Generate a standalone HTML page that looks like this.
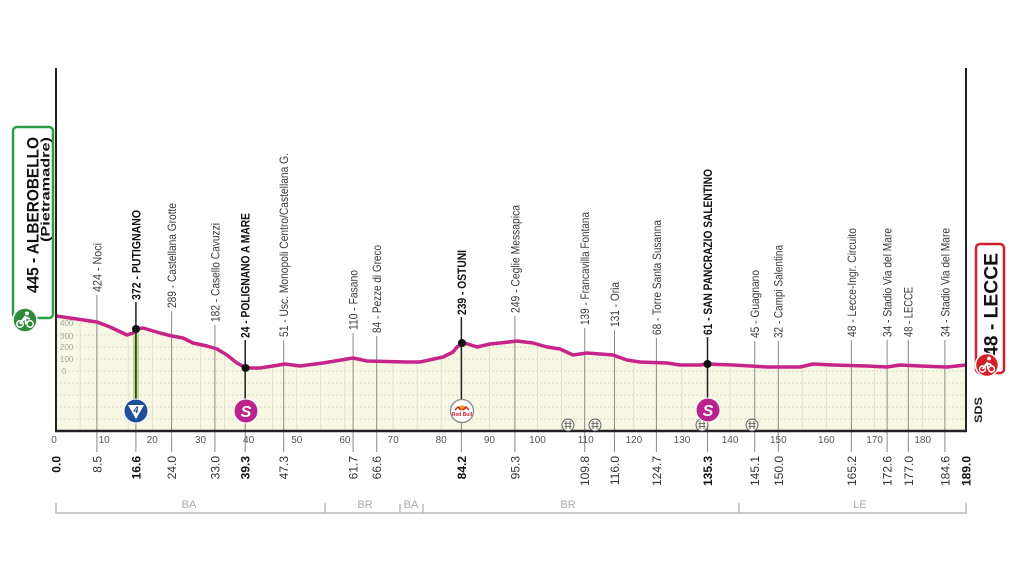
<!DOCTYPE html>
<html><head><meta charset="utf-8"><style>
html,body{margin:0;padding:0;background:#fff;}
svg{display:block;}
text{font-family:"Liberation Sans Narrow","Liberation Sans",sans-serif;}
</style></head><body>
<svg width="1024" height="576" viewBox="0 0 1024 576" xmlns="http://www.w3.org/2000/svg">
<defs>
<clipPath id="fillclip"><polygon points="56,316 77,319 97,322 110,327 127,335 133,333 136,329 143,328 160,333 172,336 183,338 193,343 207,346 217,349 227,355 237,363 246,368 260,368 273,366 285,364 300,366 323,363 353,358 367,361 407,362 420,362 443,357 453,352 457,347 463,343 468,344 477,347 490,344 500,343 517,341 533,343 547,347 560,349 573,355 587,353 613,355 627,360 640,362 667,363 680,365 700,365 707,364 733,365 767,367 800,367 813,364 833,365 867,366 887,367 900,365 920,366 947,367 966,365 966,431 56,431"/></clipPath>
</defs>
<rect width="1024" height="576" fill="#fff"/>
<polygon fill="#f7f7e3" points="56,316 77,319 97,322 110,327 127,335 133,333 136,329 143,328 160,333 172,336 183,338 193,343 207,346 217,349 227,355 237,363 246,368 260,368 273,366 285,364 300,366 323,363 353,358 367,361 407,362 420,362 443,357 453,352 457,347 463,343 468,344 477,347 490,344 500,343 517,341 533,343 547,347 560,349 573,355 587,353 613,355 627,360 640,362 667,363 680,365 700,365 707,364 733,365 767,367 800,367 813,364 833,365 867,366 887,367 900,365 920,366 947,367 966,365 966,431 56,431"/>
<g clip-path="url(#fillclip)" stroke="#cfcfc0" stroke-width="0.8" stroke-dasharray="2,2">
<line x1="56" x2="966" y1="323" y2="323"/><line x1="56" x2="966" y1="335" y2="335"/>
<line x1="56" x2="966" y1="347" y2="347"/><line x1="56" x2="966" y1="359" y2="359"/>
<line x1="56" x2="966" y1="371" y2="371"/><line x1="56" x2="966" y1="383" y2="383"/>
<line x1="56" x2="966" y1="395" y2="395"/><line x1="56" x2="966" y1="407" y2="407"/>
<line x1="56" x2="966" y1="419" y2="419"/>
</g>
<g clip-path="url(#fillclip)" stroke="#dcdccc" stroke-width="0.8">
<line x1="80.1" x2="80.1" y1="300" y2="431"/><line x1="128.2" x2="128.2" y1="300" y2="431"/><line x1="152.3" x2="152.3" y1="300" y2="431"/><line x1="200.4" x2="200.4" y1="300" y2="431"/><line x1="224.5" x2="224.5" y1="300" y2="431"/><line x1="272.7" x2="272.7" y1="300" y2="431"/><line x1="296.8" x2="296.8" y1="300" y2="431"/><line x1="320.8" x2="320.8" y1="300" y2="431"/><line x1="344.9" x2="344.9" y1="300" y2="431"/><line x1="393.1" x2="393.1" y1="300" y2="431"/><line x1="417.2" x2="417.2" y1="300" y2="431"/><line x1="441.2" x2="441.2" y1="300" y2="431"/><line x1="489.4" x2="489.4" y1="300" y2="431"/><line x1="537.5" x2="537.5" y1="300" y2="431"/><line x1="561.6" x2="561.6" y1="300" y2="431"/><line x1="633.8" x2="633.8" y1="300" y2="431"/><line x1="682" x2="682" y1="300" y2="431"/><line x1="730.1" x2="730.1" y1="300" y2="431"/><line x1="802.3" x2="802.3" y1="300" y2="431"/><line x1="826.4" x2="826.4" y1="300" y2="431"/><line x1="874.6" x2="874.6" y1="300" y2="431"/><line x1="922.7" x2="922.7" y1="300" y2="431"/>
</g>
<g font-size="8" fill="#a8a8a0" font-family="Liberation Serif,serif">
<text x="60" y="326">400</text><text x="60" y="339">300</text><text x="60" y="350">200</text><text x="60" y="362">100</text><text x="62" y="374">0</text>
</g>
<g stroke="#8a8a8a" stroke-width="1">
<line x1="96.9" x2="96.9" y1="295" y2="452"/>
<line x1="135.9" x2="135.9" y1="303" y2="452"/>
<line x1="171.6" x2="171.6" y1="311" y2="452"/>
<line x1="214.9" x2="214.9" y1="325" y2="452"/>
<line x1="245.2" x2="245.2" y1="341" y2="452"/>
<line x1="283.7" x2="283.7" y1="340" y2="452"/>
<line x1="353.1" x2="353.1" y1="333" y2="452"/>
<line x1="376.7" x2="376.7" y1="336" y2="452"/>
<line x1="461.4" x2="461.4" y1="318" y2="452"/>
<line x1="514.9" x2="514.9" y1="316" y2="452"/>
<line x1="584.7" x2="584.7" y1="328" y2="452"/>
<line x1="614.5" x2="614.5" y1="330" y2="452"/>
<line x1="656.4" x2="656.4" y1="338" y2="452"/>
<line x1="707.5" x2="707.5" y1="338" y2="452"/>
<line x1="754.7" x2="754.7" y1="341" y2="452"/>
<line x1="778.3" x2="778.3" y1="341" y2="452"/>
<line x1="851.4" x2="851.4" y1="340" y2="452"/>
<line x1="887.1" x2="887.1" y1="340" y2="452"/>
<line x1="908.3" x2="908.3" y1="340" y2="452"/>
<line x1="944.9" x2="944.9" y1="340" y2="452"/>
</g>
<rect x="133" y="329" width="6" height="72" fill="#b9dc8c"/>
<g stroke="#222" stroke-width="1.5">
<line x1="135.9" x2="135.9" y1="302" y2="400"/>
<line x1="245.2" x2="245.2" y1="340" y2="400"/>
<line x1="461.4" x2="461.4" y1="317" y2="400"/>
<line x1="707.5" x2="707.5" y1="337" y2="400"/>
</g>
<polyline fill="none" stroke="#c7248a" stroke-width="3.5" stroke-linejoin="round" points="56,316 77,319 97,322 110,327 127,335 133,333 136,329 143,328 160,333 172,336 183,338 193,343 207,346 217,349 227,355 237,363 246,368 260,368 273,366 285,364 300,366 323,363 353,358 367,361 407,362 420,362 443,357 453,352 457,347 463,343 468,344 477,347 490,344 500,343 517,341 533,343 547,347 560,349 573,355 587,353 613,355 627,360 640,362 667,363 680,365 700,365 707,364 733,365 767,367 800,367 813,364 833,365 867,366 887,367 900,365 920,366 947,367 966,365"/>
<g fill="#111">
<circle cx="136" cy="329" r="4"/><circle cx="245.5" cy="368" r="4"/><circle cx="462" cy="343" r="4"/><circle cx="707.5" cy="364" r="4"/>
</g>
<line x1="56" x2="56" y1="68" y2="432" stroke="#222" stroke-width="2"/>
<line x1="966" x2="966" y1="68" y2="432" stroke="#222" stroke-width="2"/>
<line x1="55" x2="967" y1="431" y2="431" stroke="#222" stroke-width="2.5"/>
<g stroke="#555" stroke-width="0.9" fill="#f4f4e6">
<circle cx="568" cy="425" r="6"/><circle cx="595" cy="425" r="6"/><circle cx="702" cy="425" r="6"/><circle cx="752" cy="425" r="6"/>
</g>
<g stroke="#555" stroke-width="0.8">
<path d="M566,421v8M570,421v8M564.5,423.5h7M564.5,426.5h7"/>
<path d="M593,421v8M597,421v8M591.5,423.5h7M591.5,426.5h7"/>
<path d="M700,421v8M704,421v8M698.5,423.5h7M698.5,426.5h7"/>
<path d="M750,421v8M754,421v8M748.5,423.5h7M748.5,426.5h7"/>
</g>
<circle cx="136" cy="411" r="12" fill="#1f4f9a" stroke="#fff" stroke-width="1"/>
<polygon points="128,405 144,405 136,419" fill="#fff"/>
<text x="136" y="413" font-size="9" font-weight="bold" font-style="italic" fill="#1f3f80" text-anchor="middle">4</text>
<circle cx="246" cy="411" r="12" fill="#b8238c" stroke="#fff" stroke-width="1"/>
<text x="246" y="417" font-size="16" font-weight="bold" font-style="italic" fill="#fff" text-anchor="middle" font-family="Liberation Sans,sans-serif">S</text>
<circle cx="708" cy="410" r="12" fill="#b8238c" stroke="#fff" stroke-width="1"/>
<text x="708" y="416" font-size="16" font-weight="bold" font-style="italic" fill="#fff" text-anchor="middle" font-family="Liberation Sans,sans-serif">S</text>
<circle cx="462" cy="411" r="11.5" fill="#fff" stroke="#888" stroke-width="1.3"/>
<ellipse cx="462" cy="408" rx="4" ry="2.5" fill="#e8a020"/>
<path d="M455,410 l3,-3 3,3 M463,410 l3,-3 3,3" stroke="#d0202a" stroke-width="1.5" fill="none"/>
<text x="462" y="416" font-size="5" font-weight="bold" fill="#d0202a" text-anchor="middle">Red Bull</text>
<g font-size="10" fill="#555" text-anchor="middle">
<text x="54" y="443">0</text><text x="104.2" y="443">10</text><text x="152.3" y="443">20</text><text x="200.5" y="443">30</text><text x="248.6" y="443">40</text><text x="296.8" y="443">50</text><text x="344.9" y="443">60</text><text x="393.1" y="443">70</text><text x="441.2" y="443">80</text><text x="489.4" y="443">90</text><text x="537.5" y="443">100</text><text x="585.7" y="443">110</text><text x="633.8" y="443">120</text><text x="682" y="443">130</text><text x="730.1" y="443">140</text><text x="778.3" y="443">150</text><text x="826.4" y="443">160</text><text x="874.6" y="443">170</text><text x="922.7" y="443">180</text>
</g>
<g font-size="12" fill="#333" text-anchor="end">
<text transform="translate(60.5,456) rotate(-90)" font-weight="bold" fill="#111">0.0</text>
<text transform="translate(101.4,456) rotate(-90)">8.5</text>
<text transform="translate(140.4,456) rotate(-90)" font-weight="bold" fill="#111">16.6</text>
<text transform="translate(176.1,456) rotate(-90)">24.0</text>
<text transform="translate(219.4,456) rotate(-90)">33.0</text>
<text transform="translate(249.7,456) rotate(-90)" font-weight="bold" fill="#111">39.3</text>
<text transform="translate(288.2,456) rotate(-90)">47.3</text>
<text transform="translate(357.6,456) rotate(-90)">61.7</text>
<text transform="translate(381.2,456) rotate(-90)">66.6</text>
<text transform="translate(465.9,456) rotate(-90)" font-weight="bold" fill="#111">84.2</text>
<text transform="translate(519.4,456) rotate(-90)">95.3</text>
<text transform="translate(589.2,456) rotate(-90)">109.8</text>
<text transform="translate(619,456) rotate(-90)">116.0</text>
<text transform="translate(660.9,456) rotate(-90)">124.7</text>
<text transform="translate(712,456) rotate(-90)" font-weight="bold" fill="#111">135.3</text>
<text transform="translate(759.2,456) rotate(-90)">145.1</text>
<text transform="translate(782.8,456) rotate(-90)">150.0</text>
<text transform="translate(855.9,456) rotate(-90)">165.2</text>
<text transform="translate(891.6,456) rotate(-90)">172.6</text>
<text transform="translate(912.8,456) rotate(-90)">177.0</text>
<text transform="translate(949.4,456) rotate(-90)">184.6</text>
<text transform="translate(970.5,456) rotate(-90)" font-weight="bold" fill="#111">189.0</text>
</g>
<g font-size="12" fill="#3a3a3a">
<text transform="translate(101.3,292) rotate(-90)" textLength="49" lengthAdjust="spacingAndGlyphs">424 - Noci</text>
<text transform="translate(140.3,300) rotate(-90)" textLength="90" lengthAdjust="spacingAndGlyphs" font-weight="bold" fill="#111">372 - PUTIGNANO</text>
<text transform="translate(176,308) rotate(-90)" textLength="105" lengthAdjust="spacingAndGlyphs">289 - Castellana Grotte</text>
<text transform="translate(219.3,322) rotate(-90)" textLength="99" lengthAdjust="spacingAndGlyphs">182 - Casello Cavuzzi</text>
<text transform="translate(249.6,338) rotate(-90)" textLength="125" lengthAdjust="spacingAndGlyphs" font-weight="bold" fill="#111">24 - POLIGNANO A MARE</text>
<text transform="translate(288.1,337) rotate(-90)" textLength="184" lengthAdjust="spacingAndGlyphs">51 - Usc. Monopoli Centro/Castellana G.</text>
<text transform="translate(357.5,330) rotate(-90)" textLength="60" lengthAdjust="spacingAndGlyphs">110 - Fasano</text>
<text transform="translate(381.1,333) rotate(-90)" textLength="88" lengthAdjust="spacingAndGlyphs">84 - Pezze di Greco</text>
<text transform="translate(465.8,315) rotate(-90)" textLength="65" lengthAdjust="spacingAndGlyphs" font-weight="bold" fill="#111">239 - OSTUNI</text>
<text transform="translate(519.3,313) rotate(-90)" textLength="108" lengthAdjust="spacingAndGlyphs">249 - Ceglie Messapica</text>
<text transform="translate(589.1,325) rotate(-90)" textLength="113" lengthAdjust="spacingAndGlyphs">139 - Francavilla Fontana</text>
<text transform="translate(618.9,327) rotate(-90)" textLength="45" lengthAdjust="spacingAndGlyphs">131 - Oria</text>
<text transform="translate(660.8,335) rotate(-90)" textLength="115" lengthAdjust="spacingAndGlyphs">68 - Torre Santa Susanna</text>
<text transform="translate(711.9,335) rotate(-90)" textLength="166" lengthAdjust="spacingAndGlyphs" font-weight="bold" fill="#111">61 - SAN PANCRAZIO SALENTINO</text>
<text transform="translate(759.1,338) rotate(-90)" textLength="68" lengthAdjust="spacingAndGlyphs">45 - Guagnano</text>
<text transform="translate(782.7,338) rotate(-90)" textLength="93" lengthAdjust="spacingAndGlyphs">32 - Campi Salentina</text>
<text transform="translate(855.8,337) rotate(-90)" textLength="109" lengthAdjust="spacingAndGlyphs">48 - Lecce-Ingr. Circuito</text>
<text transform="translate(891.5,337) rotate(-90)" textLength="109" lengthAdjust="spacingAndGlyphs">34 - Stadio Via del Mare</text>
<text transform="translate(912.7,337) rotate(-90)" textLength="50" lengthAdjust="spacingAndGlyphs">48 - LECCE</text>
<text transform="translate(949.3,337) rotate(-90)" textLength="109" lengthAdjust="spacingAndGlyphs">34 - Stadio Via del Mare</text>
</g>
<rect x="13" y="127" width="40" height="191" rx="4" fill="#fff" stroke="#2e9a42" stroke-width="2.5"/>
<text transform="translate(38.5,293) rotate(-90)" font-size="17" font-weight="bold" fill="#111" textLength="156" lengthAdjust="spacingAndGlyphs">445 - ALBEROBELLO</text>
<text transform="translate(49.5,242) rotate(-90)" font-size="12" font-weight="bold" fill="#111" textLength="105" lengthAdjust="spacingAndGlyphs">(Pietramadre)</text>
<circle cx="25" cy="320" r="12" fill="#2f8a3c" stroke="#fff" stroke-width="1.5"/>
<circle cx="20" cy="324" r="3.2" fill="none" stroke="#fff" stroke-width="1.5"/>
<circle cx="30" cy="324" r="3.2" fill="none" stroke="#fff" stroke-width="1.5"/>
<path d="M20,324 l5,-7 5,2 M25,317 l1,7" stroke="#fff" stroke-width="2" fill="none"/>
<circle cx="27" cy="313.5" r="2" fill="#fff"/>
<rect x="976" y="244" width="28" height="129" rx="4" fill="#fff" stroke="#d0202a" stroke-width="2.5"/>
<text transform="translate(997.5,357) rotate(-90)" font-size="19" font-weight="bold" fill="#111" textLength="104" lengthAdjust="spacingAndGlyphs">48 - LECCE</text>
<circle cx="987" cy="365" r="11.5" fill="#d0202a" stroke="#fff" stroke-width="1.5"/>
<circle cx="982.5" cy="369" r="3" fill="none" stroke="#fff" stroke-width="1.4"/>
<circle cx="991.5" cy="369" r="3" fill="none" stroke="#fff" stroke-width="1.4"/>
<path d="M982.5,369 l4.5,-6 4.5,2 M987,363 l1,6" stroke="#fff" stroke-width="1.8" fill="none"/>
<circle cx="989" cy="358.5" r="1.9" fill="#fff"/>
<text transform="translate(982,423) rotate(-90)" font-size="11" font-weight="bold" fill="#222" textLength="26" lengthAdjust="spacingAndGlyphs">SDS</text>
<g stroke="#aaa" stroke-width="1.2" fill="none">
<path d="M56,503V513H966V503M325,503V513M400,504V513M423,504V513M739,503V513"/>
</g>
<g font-size="11" fill="#aaa" text-anchor="middle">
<text x="189" y="508">BA</text><text x="365" y="508">BR</text><text x="411" y="508">BA</text><text x="568" y="508">BR</text><text x="860" y="508">LE</text>
</g>
</svg>
</body></html>
